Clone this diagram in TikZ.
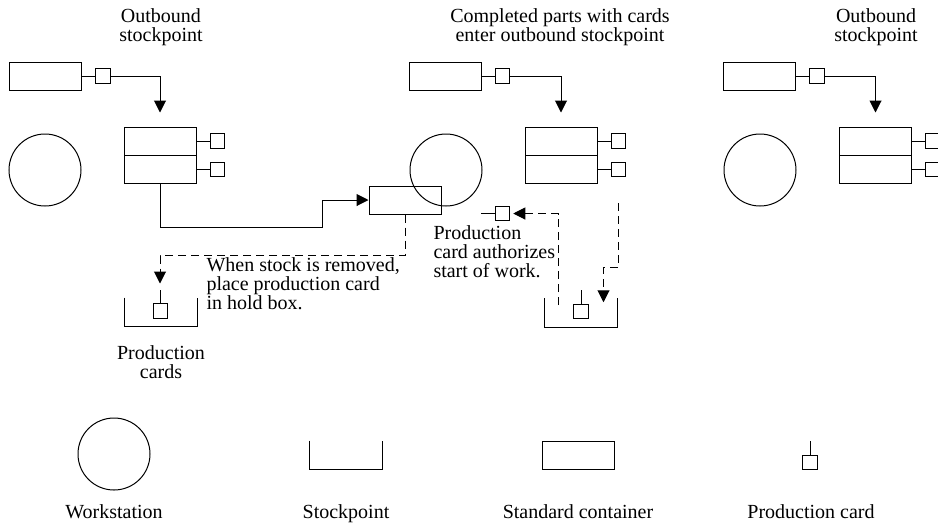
\documentclass[tikz,border=0pt]{standalone}
\usepackage{fontspec}
\setmainfont{Liberation Serif}
\usetikzlibrary{arrows.meta}

\begin{document}
\begin{tikzpicture}[
    x=0.5pt,
    y=-0.5pt,
    line width=0.5pt,
    node distance=28.75pt,
    box/.style={
        rectangle,
        draw,
        minimum width=36pt,
        minimum height=14pt,
        inner sep=0pt
    },
    card/.style={
        rectangle,
        draw,
        minimum size=7.25pt,
        inner sep=0pt
    },
    station/.style={
        circle,
        draw,
        minimum size=36pt,
        inner sep=0pt
    },
    hold/.style={
        rectangle,
        minimum width=36pt,
        minimum height=14pt,
        inner sep=0pt
    },
    arrow/.style={
        -{Triangle[length=6pt,width=6pt]}
    },
    flow/.style={
        dash pattern=on 4pt off 2.5pt
    },
    note/.style={
        font=\fontsize{10pt}{9.5pt}\selectfont,
        inner sep=0pt
    }
]

% Page frame
\useasboundingbox (0,0) rectangle (938,527);

% Left cell
\node [note, align=center] (t1) at (161,27) {Outbound\\stockpoint};
\node [box] (c1) at (45.5,76) {};
\node [card, right of=c1] (k1) {};
\node [station] (w1) at (45,170) {};
\node [box] (s1a) at (160,141) {};
\node [box, below of=s1a, node distance=14.25pt] (s1b) {};
\node [card, right of=s1a] (k1a) {};
\node [card, right of=s1b] (k1b) {};
\node [hold] (sp1) at (161,312) {};
\node [card] (kp1) at (160.5,311) {};
\node [note, align=left, anchor=west] (n1) at (206,284) {When stock is removed,\\place production card\\in hold box.};
\node [note, align=center] (n2) at (161,362) {Production\\cards};

% Middle cell
\node [note, align=center] (t2) at (560,27) {Completed parts with cards\\enter outbound stockpoint};
\node [box] (c2) at (445,76) {};
\node [card, right of=c2] (k2) {};
\node [station] (w2) at (446,170) {};
\node [box] (m1) at (405,200) {};
\node [box] (s2a) at (561,141) {};
\node [box, below of=s2a, node distance=14.25pt] (s2b) {};
\node [card, right of=s2a] (k2a) {};
\node [card, right of=s2b] (k2b) {};
\node [card] (kc) at (502.5,213.5) {};
\node [hold] (sp2) at (581,312.5) {};
\node [card] (kp2) at (581,311.5) {};
\coordinate (q2) at (558,305);
\node [note, align=left, anchor=west] (n3) at (433,252) {Production\\card authorizes\\start of work.};

% Right cell
\node [note, align=center] (t3) at (876,27) {Outbound\\stockpoint};
\node [box] (c3) at (759.5,76) {};
\node [card, right of=c3] (k3) {};
\node [station] (w3) at (760,170) {};
\node [box] (s3a) at (875.5,141) {};
\node [box, below of=s3a, node distance=14.25pt] (s3b) {};
\node [card, right of=s3a] (k3a) {};
\node [card, right of=s3b] (k3b) {};

% Legend
\node [station] (w0) at (114,454) {};
\node [hold] (sp0) at (346,455) {};
\node [box] (c0) at (578,455.5) {};
\node [card] (kp0) at (810,462.5) {};
\node [note, anchor=base] (l0) at (114,518) {Workstation};
\node [note, anchor=base] (l1) at (346,518) {Stockpoint};
\node [note, anchor=base] (l2) at (578,518) {Standard container};
\node [note, anchor=base] (l3) at (811,518) {Production card};

% Cards on containers
\foreach \a/\b in {c1/k1, c2/k2, c3/k3, s1a/k1a, s1b/k1b, s2a/k2a, s2b/k2b, s3a/k3a, s3b/k3b}
    \draw (\a) -- (\b);
\draw (kc.west) -- ++(-7pt,0);
\foreach \k in {kp0, kp1, kp2}
    \draw (\k.north) -- ++(0,6.75pt);

% Hold boxes
\foreach \h in {sp0, sp1, sp2}
    \draw (\h.north west) |- (\h.south east) -- (\h.north east);

% Parts into stockpoints
\foreach \k/\s in {k1/s1a, k2/s2a, k3/s3a}
    \draw [arrow, shorten >=7pt] (\k) -| (\s.north);
\draw [arrow] (s1b.south) |- ++(81pt,-21.5pt) |- (m1.west);

% Card flow
\draw [arrow, flow] (m1.south) |- ++(-122.5pt,-20.5pt) -- ++(0,-14pt);
\draw [arrow, flow, shorten >=1.5pt] (q2) |- (kc);
\draw [arrow, flow, shorten <=13pt] (k2b.south) |- ++(-7.5pt,-45pt) -- ++(0,-17.5pt);

\end{tikzpicture}
\end{document}
